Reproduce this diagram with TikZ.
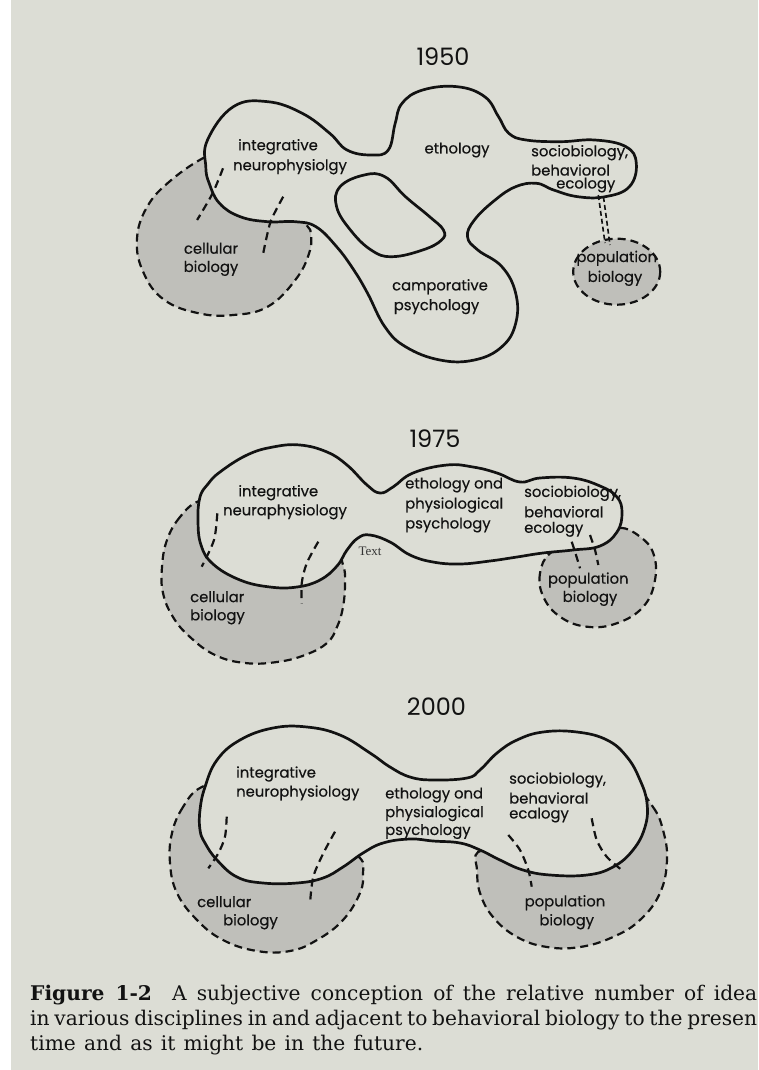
\documentclass[tikz,border=0pt]{standalone}
\usepackage{fontspec}
\setmainfont{Poppins}
\newfontfamily\labfont{Poppins}[FakeBold=0.35]
\newfontfamily\yrfont{Poppins}
\newfontfamily\capfont{DejaVu Serif}
\newfontfamily\serfont{Liberation Serif}
\definecolor{bg}{RGB}{220,221,213}
\definecolor{shade}{RGB}{191,191,186}
\definecolor{ink}{RGB}{18,18,18}
\begin{document}
\begin{tikzpicture}[x=1pt,y=-1pt,
  mainshape/.style={draw=ink, line width=2.7pt, fill=bg, line join=round},
  holeshape/.style={draw=ink, line width=2.7pt, fill=bg},
  shadeshape/.style={draw=ink, line width=2.2pt, dash pattern=on 8pt off 5pt, fill=shade},
  dline/.style={draw=ink, line width=2.2pt, dash pattern=on 8pt off 5pt},
  lab/.style={font=\labfont\fontsize{14.8}{16}\selectfont, inner sep=0pt, text=ink},
  labl/.style={lab, anchor=west},
  yr/.style={font=\yrfont\fontsize{24}{28}\selectfont, inner sep=0pt, text=ink},
  captext/.style={font=\capfont\fontsize{20.2}{25}\selectfont, anchor=base west, inner sep=0pt, text=ink}
]
\useasboundingbox (0,0) rectangle (758,1070);
\fill[white] (0,0) rectangle (758,1070);
\fill[bg] (11,0) rectangle (758,1070);

% ================= 1950 =================
\node[yr] (y1950) at (443,57) {1950};
\path[shadeshape] plot[smooth cycle, tension=0.7] coordinates {
 (205.8,156.7) (171.3,180) (147.2,206.7) (136.9,240) (143.8,273.3) (164.4,300)
 (198.9,313.3) (233.3,315) (267.7,306.7) (295.3,280) (309.1,253.3) (310.8,233.3)
 (305.6,223.3) (285,190) (250,162) (223,154)};
\path[shadeshape] (616.7,271.7) ellipse [x radius=43.5, y radius=33];
\path[mainshape] plot[smooth cycle, tension=0.7] coordinates {
 (205.8,166.7) (207.5,140) (233.3,106.7) (267.8,101.7) (302.2,113.3) (329.7,133.3)
 (347,150) (371.1,155) (388.3,150) (395.2,123.3) (402.1,103.3) (422.7,90)
 (457.2,86.7) (484.7,96.7) (498.5,116.7) (508.8,133.3) (526.1,140) (560.5,141.7)
 (594.9,140) (625.9,146.7) (636.3,163.3) (629.4,186.7) (605.3,196.7) (577.7,196.7)
 (553.6,190) (536.4,183.3) (515.7,186.7) (495.1,200) (474.4,220) (467.5,236.7)
 (477.8,250) (501.9,266.7) (515.7,293.3) (515.7,323.3) (501.9,346.7) (474.4,360)
 (439.9,360) (405.5,346.7) (384.8,326.7) (367.6,293.3) (353.8,270) (336.6,246.7)
 (315.9,226.7) (295.3,221.7) (267.8,221.7) (240.2,216.7) (219.5,203.3) (209.2,183.3)};
\path[holeshape] plot[smooth cycle, tension=0.7] coordinates {
 (340.1,186.7) (364.2,175) (384.8,176.7) (405.5,196.7) (429.6,216.7) (443.4,230)
 (441.6,240) (422.7,250) (391.7,256.7) (371.1,250) (350.4,230) (336.6,206.7)};
\draw[dline] plot[smooth] coordinates {(223,168.3) (212.6,193.3) (197.1,220)};
\draw[dline] plot[smooth] coordinates {(283.2,196.7) (271.2,220) (266,240) (262.6,256.7)};
\draw[dline, line width=1.6pt, dash pattern=on 5pt off 3pt] (598.3,195) -- (605,243);
\draw[dline, line width=1.6pt, dash pattern=on 5pt off 3pt] (603.5,197) -- (610,245);

\node[lab] (i50a) at (278,146.7) {integrative};
\node[lab] (i50b) at (290,166.7) {neurophysiolgy};
\node[lab] (e50) at (457,150) {ethology};
\node[labl] (s50a) at (531,152.7) {sociobiology,};
\node[labl] (s50b) at (531,170) {behaviorol};
\node[labl] (s50c) at (556,185) {ecology};
\node[lab] (c50a) at (211,248.3) {cellular};
\node[lab] (c50b) at (211,268.3) {biology};
\node[lab] (p50a) at (616.7,258.3) {population};
\node[lab] (p50b) at (615,278.3) {biology};
\node[lab] (k50a) at (440,286.7) {camporative};
\node[lab] (k50b) at (436.5,306.7) {psychology};

% ================= 1975 =================
\node[yr] (y1975) at (435,438.3) {1975};
\path[shadeshape] plot[smooth cycle, tension=0.7] coordinates {
 (199,501) (180,517) (167,540) (162,567) (163,593) (173,617) (190,637) (215,655)
 (245,663) (277,662) (305,655) (327,643) (337,627) (343,607) (345,583) (343,565)
 (330,535) (280,508) (228,497)};
\path[shadeshape] plot[smooth cycle, tension=0.7] coordinates {
 (550,553.3) (540,573.3) (543.3,596.7) (560,616.7) (586.7,626.7) (616.7,623.3)
 (643.3,606.7) (655,580) (653.3,553.3) (640,536.7) (620,528) (600,538) (573,545)};
\path[mainshape] plot[smooth cycle, tension=0.7] coordinates {
 (198,520) (200,497) (208,484) (220,472) (247,455) (273,447) (300,445) (327,452)
 (347,465) (367,485) (380,493) (393,487) (413,473) (447,465) (473,467) (497,473)
 (520,482) (540,478) (573,478) (600,486) (617,497) (622,513) (617,532) (600,546)
 (573,550) (543,553) (517,557) (490,561) (460,564) (433,562) (410,555) (390,542)
 (370,535) (358,538) (347,550) (337,566) (320,580) (297,587) (270,587) (240,580)
 (213,564) (201,545)};
\draw[dline] plot[smooth] coordinates {(217.3,513.3) (214,540) (201.7,566.7)};
\draw[dline] plot[smooth] coordinates {(318.3,541.7) (306.7,563.3) (301.7,583.3) (301.7,603.3)};
\draw[dline] plot[smooth] coordinates {(571.7,541.7) (576,555) (580,568.3)};
\draw[dline] plot[smooth] coordinates {(590,535) (595,550) (598.3,565)};

\node[lab] (i75a) at (278.3,492.7) {integrative};
\node[lab] (i75b) at (285,511.7) {neuraphysiology};
\node[labl] (e75a) at (405,485) {ethology ond};
\node[labl] (e75b) at (405,505) {physiological};
\node[labl] (e75c) at (405,525) {psychology};
\node[labl] (s75a) at (524,493.3) {sociobiology,};
\node[labl] (s75b) at (524,511.7) {behavioral};
\node[labl] (s75c) at (524,529.3) {ecology};
\node[labl] (c75a) at (190,596.7) {cellular};
\node[labl] (c75b) at (190,616.7) {biology};
\node[lab] (p75a) at (588.3,580) {population};
\node[lab] (p75b) at (590,598.3) {biology};
\node[font=\serfont\fontsize{13}{15}\selectfont, inner sep=0pt, text=ink!85] (t75) at (370,551.7) {Text};

% ================= 2000 =================
\node[yr] (y2000) at (436.5,706.7) {2000};
\path[shadeshape] plot[smooth cycle, tension=0.7] coordinates {
 (200,788) (183,807) (172,833) (170,863) (177,893) (197,920) (223,940) (257,951)
 (290,951) (317,940) (343,920) (360,893) (363,873) (360,858) (335,842) (280,805) (225,785)};
\path[shadeshape] plot[smooth cycle, tension=0.7] coordinates {
 (633,787) (653,807) (663,830) (667,860) (660,893) (640,920) (613,937) (580,947)
 (547,947) (517,937) (493,917) (480,893) (477,870) (478,852) (505,850) (560,842) (612,805)};
\path[mainshape] plot[smooth cycle, tension=0.7] coordinates {
 (200,830) (200,810) (205,787) (217,760) (240,740) (273,728) (307,727) (340,735)
 (370,753) (390,767) (410,777) (433,780) (467,778) (480,770) (497,753) (517,740)
 (543,732) (577,732) (607,740) (627,757) (640,780) (647,803) (645,827) (633,850)
 (613,867) (587,875) (550,875) (523,870) (500,860) (480,850) (460,843) (433,841)
 (410,839) (383,843) (363,853) (343,867) (323,878) (297,883) (263,883) (237,877)
 (217,860) (205,843)};
\draw[dline] plot[smooth] coordinates {(226.7,816.7) (225,836.7) (218.3,853.3) (208.3,868.3)};
\draw[dline] plot[smooth] coordinates {(335,831.7) (323.3,853.3) (313.3,876.7) (310,903.3)};
\draw[dline] plot[smooth] coordinates {(508.3,835) (520,850) (528.3,870) (531.7,886.7)};
\draw[dline] plot[smooth] coordinates {(591.7,818.3) (596.7,840) (606.7,856.7) (621.7,870)};

\node[labl] (i00a) at (236,774) {integrative};
\node[labl] (i00b) at (236,793) {neurophysiology};
\node[labl] (e00a) at (385,795) {ethology ond};
\node[labl] (e00b) at (385,813.5) {physialogical};
\node[labl] (e00c) at (385,831.5) {psychology};
\node[labl] (s00a) at (509,780) {sociobiology,};
\node[labl] (s00b) at (509,798) {behavioral};
\node[labl] (s00c) at (509,815) {ecalogy};
\node[labl] (c00a) at (197,901.7) {cellular};
\node[labl] (c00b) at (223,921.7) {biology};
\node[lab] (p00a) at (565,902.7) {population};
\node[lab] (p00b) at (566.7,921.7) {biology};

% ================= caption =================
\node[captext] (cap1) at (30,1000) {\makebox[727pt][s]{\textbf{Figure 1-2}\hspace{0.5em} A subjective conception of the relative number of idea}};
\node[captext] (cap2) at (30,1025) {\makebox[727pt][s]{in various disciplines in and adjacent to behavioral biology to the presen}};
\node[captext] (cap3) at (30,1050) {\makebox[393pt][s]{time and as it might be in the future.}};
\end{tikzpicture}
\end{document}
